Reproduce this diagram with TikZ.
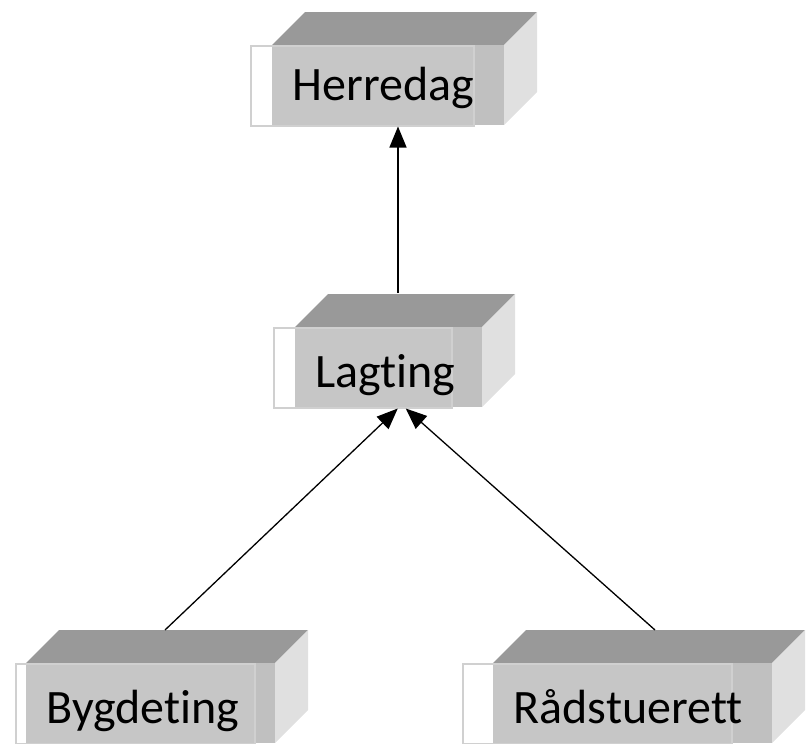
\documentclass[tikz,border=0pt]{standalone}
\usepackage{fontspec}
\setmainfont{Carlito}[RawFeature=-liga]
\usetikzlibrary{arrows.meta}
\definecolor{topgrey}{HTML}{999999}
\definecolor{frontgrey}{HTML}{C0C0C0}
\definecolor{sidegrey}{HTML}{E0E0E0}
\definecolor{labelgrey}{HTML}{C6C6C6}
\definecolor{framegrey}{HTML}{D0D0D0}

\begin{document}
\begin{tikzpicture}[x=1pt, y=-1pt, >={Triangle[length=21pt,width=17pt]},
    every node/.style={font=\fontsize{48}{52}\selectfont},
    frame/.style={draw=framegrey, line width=1.5pt, inner sep=0pt, anchor=north west, minimum height=80pt},
    link/.style={->, line width=1.3pt}]
  \useasboundingbox (0,0) rectangle (807,744);

  % Blocks: name/label/frame left/front left/frame right/front right/front top/baseline
  \foreach \n/\txt/\tl/\gl/\tr/\gr/\ft/\bl in {
      herredag/Herredag/250/272/473/504/45/100,
      lagting/Lagting/273/295/451/482/327/387,
      bygdeting/Bygdeting/15/26/254/275/663/723,
      radstue/Rådstuerett/462/493/731/772/663/723}{
    % top and side
    \fill[topgrey] (\gl,\ft) -- ++(33,-33) -- (\gr+33,\ft-33) -- (\gr,\ft) -- cycle;
    \fill[sidegrey] (\gr,\ft) -- (\gr+33,\ft-33) -- (\gr+33,\ft+47) -- (\gr,\ft+80) -- cycle;
    % front
    \fill[frontgrey] (\gl,\ft) rectangle (\gr,\ft+80);
    \fill[labelgrey] (\gl,\ft) rectangle (\tr,\ft+80);
    \node[frame, minimum width={(\tr-\tl)*1pt}] (\n) at (\tl,\ft) {};
    \node[anchor=base west] (\n-txt) at (\gl+17,\bl) {\txt};
  }

  % Connectors
  \coordinate (lagting-top) at (398,293);
  \coordinate (bygdeting-top) at (165,630);
  \coordinate (radstue-top) at (655,630);
  \draw[link] (lagting-top) -- (lagting-top |- herredag.south);
  \draw[link] (bygdeting-top) -- ([xshift=35pt]lagting.south);
  \draw[link] (radstue-top) -- ([xshift=43pt]lagting.south);
\end{tikzpicture}
\end{document}
